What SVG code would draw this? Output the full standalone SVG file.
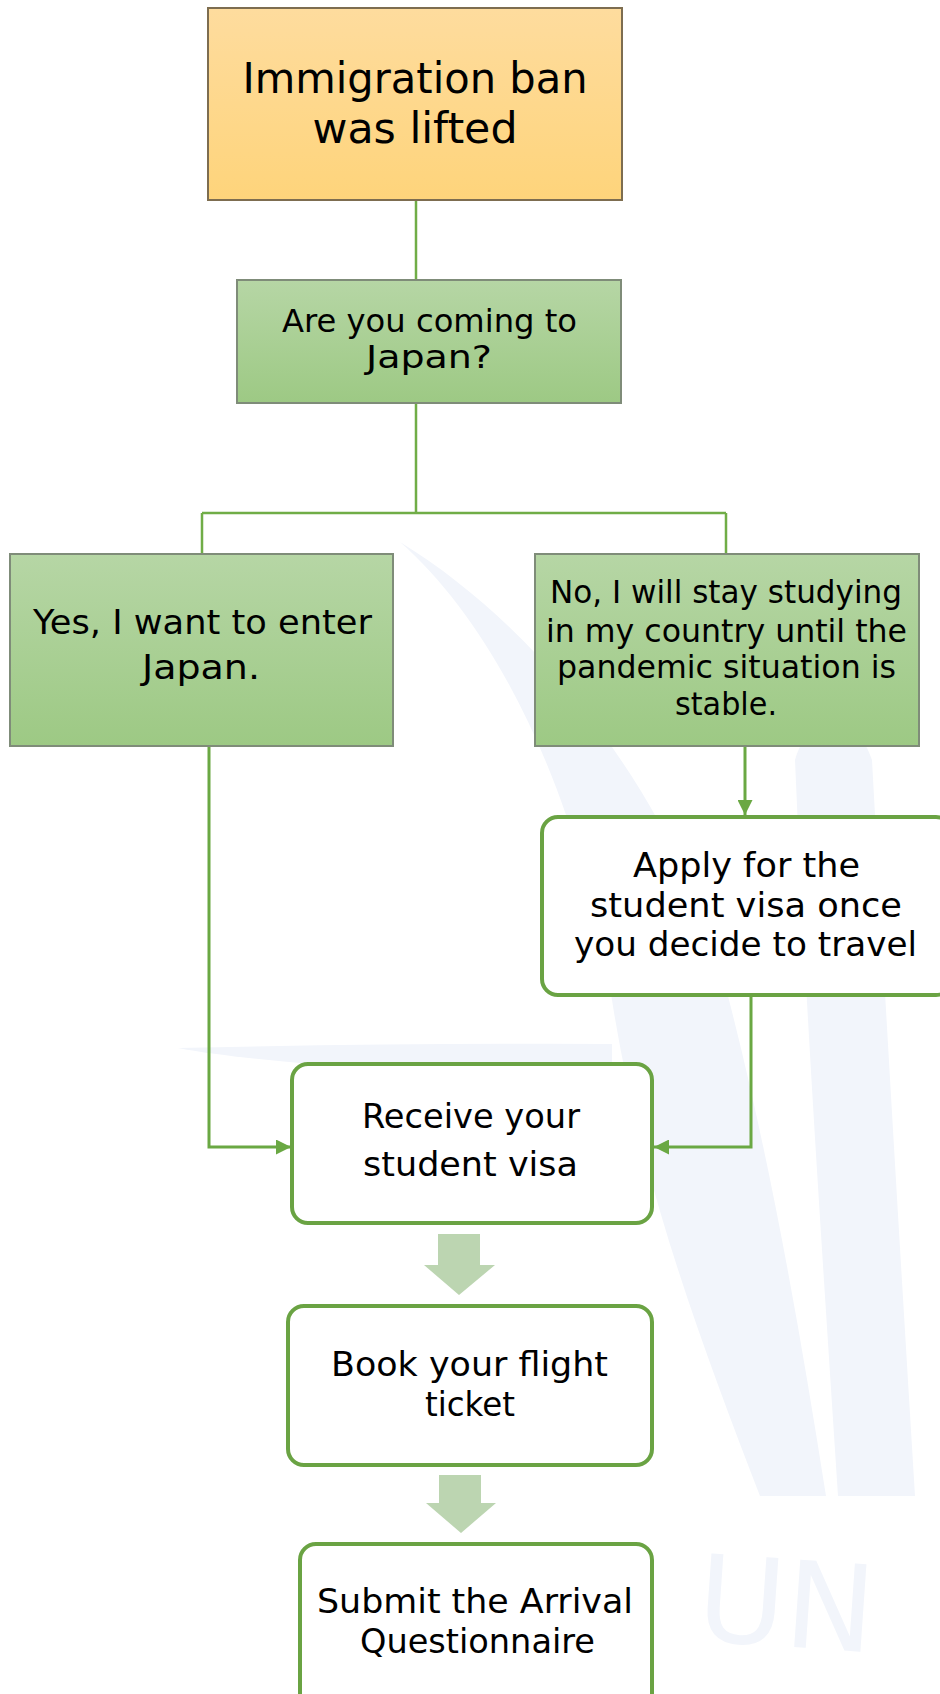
<svg xmlns="http://www.w3.org/2000/svg" width="940" height="1694" viewBox="0 0 940 1694">
<defs>
<linearGradient id="gOrange" x1="0" y1="0" x2="0" y2="1">
<stop offset="0" stop-color="#fedc9e"/>
<stop offset="1" stop-color="#fed47b"/>
</linearGradient>
<linearGradient id="gGreen" x1="0" y1="0" x2="0" y2="1">
<stop offset="0" stop-color="#b6d6a5"/>
<stop offset="1" stop-color="#9dc984"/>
</linearGradient>
<marker id="arr" viewBox="0 0 10 10" refX="10" refY="5" markerWidth="5" markerHeight="5" orient="auto" markerUnits="strokeWidth">
<path d="M0,0 L10,5 L0,10 Z" fill="#6aa843"/>
</marker>
</defs>
<style>
.t{font-family:"DejaVu Sans","Noto Sans",sans-serif;fill:#000;text-anchor:middle}
.sq{stroke:#7f8c79;stroke-width:2;fill:url(#gGreen)}
.rnd{fill:#fff;stroke:#6aa343;stroke-width:4}
.ln{fill:none;stroke:#70ad47;stroke-width:2.5}
.ln3{fill:none;stroke:#6aa843;stroke-width:3}
.blk{fill:#bcd5b1}
.wm{fill:#f2f5fb}
</style>
<rect width="940" height="1694" fill="#fff"/>
<g id="watermark">
<path class="wm" d="M400,542 C500,630 580,800 612,1000 C640,1180 700,1340 760,1496 L826,1496 C800,1330 770,1160 729,1000 C690,830 560,640 400,542 Z"/>
<path class="wm" d="M795,760 C805,1000 822,1250 838,1496 L915,1496 C900,1250 885,1000 872,760 C855,710 812,705 795,760 Z"/>
<path class="wm" d="M178,1048 Q400,1043 612,1044 L612,1063 L300,1063 Q220,1056 178,1048 Z"/>
<text x="695" y="1640" font-family="DejaVu Sans, sans-serif" font-size="120" fill="#f2f5fb" transform="rotate(4 695 1640)">UN</text>
</g>
<g id="connectors">
<path class="ln" d="M416,200 V280"/>
<path class="ln" d="M416,403 V513 M202,513 H726 M202,513 V554 M726,513 V554"/>
<path class="ln3" d="M209,746 V1147 H291" marker-end="url(#arr)"/>
<path class="ln3" d="M745,746 V815" marker-end="url(#arr)"/>
<path class="ln3" d="M751,996 V1147 H654" marker-end="url(#arr)"/>
<path class="blk" d="M438,1234 H480 V1265 H495 L459,1295 L424,1265 H438 Z"/>
<path class="blk" d="M439,1475 H481 V1503 H496 L461,1533 L426,1503 H439 Z"/>
</g>
<g id="n1">
<rect x="208" y="8" width="414" height="192" fill="url(#gOrange)" stroke="#7d6d50" stroke-width="2"/>
<text class="t" font-size="42"><tspan x="415" y="93" textLength="345" lengthAdjust="spacingAndGlyphs">Immigration ban</tspan><tspan x="415" y="143" textLength="205" lengthAdjust="spacingAndGlyphs">was lifted</tspan></text>
</g>
<g id="n2">
<rect x="237" y="280" width="384" height="123" class="sq"/>
<text class="t" font-size="32"><tspan x="429.5" y="332" textLength="295" lengthAdjust="spacingAndGlyphs">Are you coming to</tspan><tspan x="429" y="368" textLength="126" lengthAdjust="spacingAndGlyphs">Japan?</tspan></text>
</g>
<g id="n3">
<rect x="10" y="554" width="383" height="192" class="sq"/>
<text class="t" font-size="34"><tspan x="202.5" y="634" textLength="339" lengthAdjust="spacingAndGlyphs">Yes, I want to enter</tspan><tspan x="201" y="679" textLength="118" lengthAdjust="spacingAndGlyphs">Japan.</tspan></text>
</g>
<g id="n4">
<rect x="535" y="554" width="384" height="192" class="sq"/>
<text class="t" font-size="32"><tspan x="726" y="603" textLength="352" lengthAdjust="spacingAndGlyphs">No, I will stay studying</tspan><tspan x="726.5" y="642" textLength="361" lengthAdjust="spacingAndGlyphs">in my country until the</tspan><tspan x="726.5" y="678" textLength="339" lengthAdjust="spacingAndGlyphs">pandemic situation is</tspan><tspan x="726" y="715" textLength="102" lengthAdjust="spacingAndGlyphs">stable.</tspan></text>
</g>
<g id="n5">
<rect x="542" y="817" width="410" height="178" rx="16" class="rnd"/>
<text class="t" font-size="33"><tspan x="746.5" y="877" textLength="227" lengthAdjust="spacingAndGlyphs">Apply for the</tspan><tspan x="746" y="917" textLength="312" lengthAdjust="spacingAndGlyphs">student visa once</tspan><tspan x="745.5" y="956" textLength="343" lengthAdjust="spacingAndGlyphs">you decide to travel</tspan></text>
</g>
<g id="n6">
<rect x="292" y="1064" width="360" height="159" rx="16" class="rnd"/>
<text class="t" font-size="34"><tspan x="471" y="1128" textLength="218" lengthAdjust="spacingAndGlyphs">Receive your</tspan><tspan x="470.5" y="1176" textLength="215" lengthAdjust="spacingAndGlyphs">student visa</tspan></text>
</g>
<g id="n7">
<rect x="288" y="1306" width="364" height="159" rx="16" class="rnd"/>
<text class="t" font-size="34"><tspan x="469.5" y="1376" textLength="277" lengthAdjust="spacingAndGlyphs">Book your flight</tspan><tspan x="470" y="1416" textLength="90" lengthAdjust="spacingAndGlyphs">ticket</tspan></text>
</g>
<g id="n8">
<rect x="300" y="1544" width="352" height="170" rx="16" class="rnd"/>
<text class="t" font-size="34"><tspan x="475" y="1613" textLength="316" lengthAdjust="spacingAndGlyphs">Submit the Arrival</tspan><tspan x="477.5" y="1653" textLength="235" lengthAdjust="spacingAndGlyphs">Questionnaire</tspan></text>
</g>
</svg>
